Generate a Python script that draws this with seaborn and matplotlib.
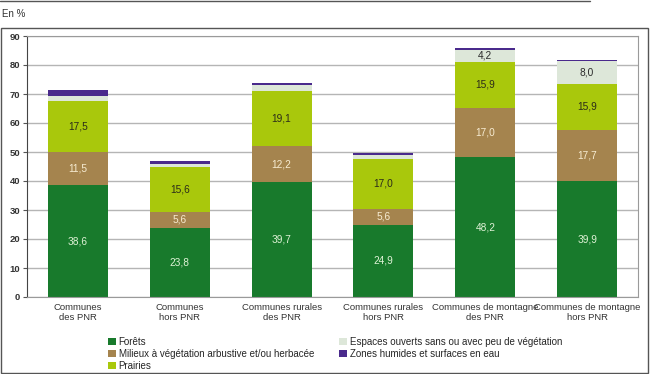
import pandas as pd
import matplotlib.pyplot as plt
import seaborn as sns
from matplotlib.patches import Rectangle, Patch
from matplotlib.lines import Line2D

# --- Data ---
categories = ["Communes\ndes PNR", "Communes\nhors PNR", "Communes rurales\ndes PNR",
              "Communes rurales\nhors PNR", "Communes de montagne\ndes PNR",
              "Communes de montagne\nhors PNR"]
layers = ["Forêts", "Milieux à végétation arbustive et/ou herbacée", "Prairies",
          "Espaces ouverts sans ou avec peu de végétation",
          "Zones humides et surfaces en eau"]
forets = [38.6, 23.8, 39.7, 24.9, 48.2, 39.9]
milieux = [11.5, 5.6, 12.2, 5.6, 17.0, 17.7]
prairies = [17.5, 15.6, 19.1, 17.0, 15.9, 15.9]
espaces = [1.8, 1.0, 2.0, 1.5, 4.2, 8.0]
zones = [2.0, 1.0, 0.8, 0.6, 0.5, 0.3]
y_ticks = [0, 10, 20, 30, 40, 50, 60, 70, 80, 90]

colors = ["#187a2c", "#a5844e", "#a9c80c", "#dde7d9", "#4a2a8c"]
label_colors = ["#dff2d6", "#f7ecd2", "#2b2b1a", "#2b2b2b", "#ffffff"]

sns.set_style("white")
plt.rcParams['font.family'] = ['Liberation Sans', 'DejaVu Sans']

df = pd.DataFrame({"cat": categories, layers[0]: forets, layers[1]: milieux,
                   layers[2]: prairies, layers[3]: espaces, layers[4]: zones})
cum = df[layers].cumsum(axis=1)

fig = plt.figure(figsize=(6.52, 3.74), dpi=100)
ax = fig.add_axes([27 / 652, 1 - 297 / 374, (638 - 27) / 652, (297 - 36) / 374])

# draw from top layer down so lower layers overlap
for i in range(len(layers) - 1, -1, -1):
    sns.barplot(x=df["cat"], y=cum[layers[i]], color=colors[i], width=0.59,
                saturation=1, ax=ax, zorder=2, linewidth=0)

# value labels
for i, name in enumerate(layers[:4]):
    for j, v in enumerate(df[name]):
        if i == 3 and v < 3:
            continue
        yc = cum[name][j] - v / 2
        ax.text(j, yc, f"{v:.1f}".replace(".", ","), ha="center", va="center",
                fontsize=7.3, color=label_colors[i], zorder=3)

ax.set_ylim(0, 90)
ax.set_xlim(-0.5, 5.5)
ax.set_yticks(y_ticks)
ax.set_yticklabels([str(t) for t in y_ticks], fontsize=6.8, color="#333333", fontweight="bold")
ax.yaxis.grid(True, color="#b5b5b5", linewidth=1)
ax.set_axisbelow(True)
ax.set_xlabel("")
ax.set_ylabel("")
ax.tick_params(axis="x", which="major", length=0, labelsize=6.8, labelcolor="#333333", pad=4)
ax.set_xticks([k + 0.5 for k in range(-1, 6)], minor=True)
ax.tick_params(axis="x", which="minor", length=3, color="#888888")
ax.tick_params(axis="y", length=3, color="#555555", pad=2, left=True)
for s in ["top", "right", "bottom"]:
    ax.spines[s].set_color("#9a9a9a")
ax.spines["left"].set_color("#444444")

# legend
handles = [Patch(facecolor=c, edgecolor="none") for c in colors]
fig.legend(handles, layers, ncol=2, loc="upper left", bbox_to_anchor=(0.158, 0.112),
           frameon=False, fontsize=7, handlelength=0.8, handleheight=0.8,
           handletextpad=0.3, labelspacing=0.2, columnspacing=2.6, borderpad=0)

# outer frame, top rule and unit
fig.add_artist(Rectangle((0.001, 0.004), 0.993, 1 - 28 / 374 - 0.004, transform=fig.transFigure,
                         fill=False, edgecolor="#555555", linewidth=1))
fig.add_artist(Line2D([0, 590 / 652], [0.998, 0.998], transform=fig.transFigure,
                      color="#555555", linewidth=1))
fig.text(0.003, 1 - 14 / 374, "En %", fontsize=7, color="#333333", va="center")

fig.savefig("out.png", dpi=100)
